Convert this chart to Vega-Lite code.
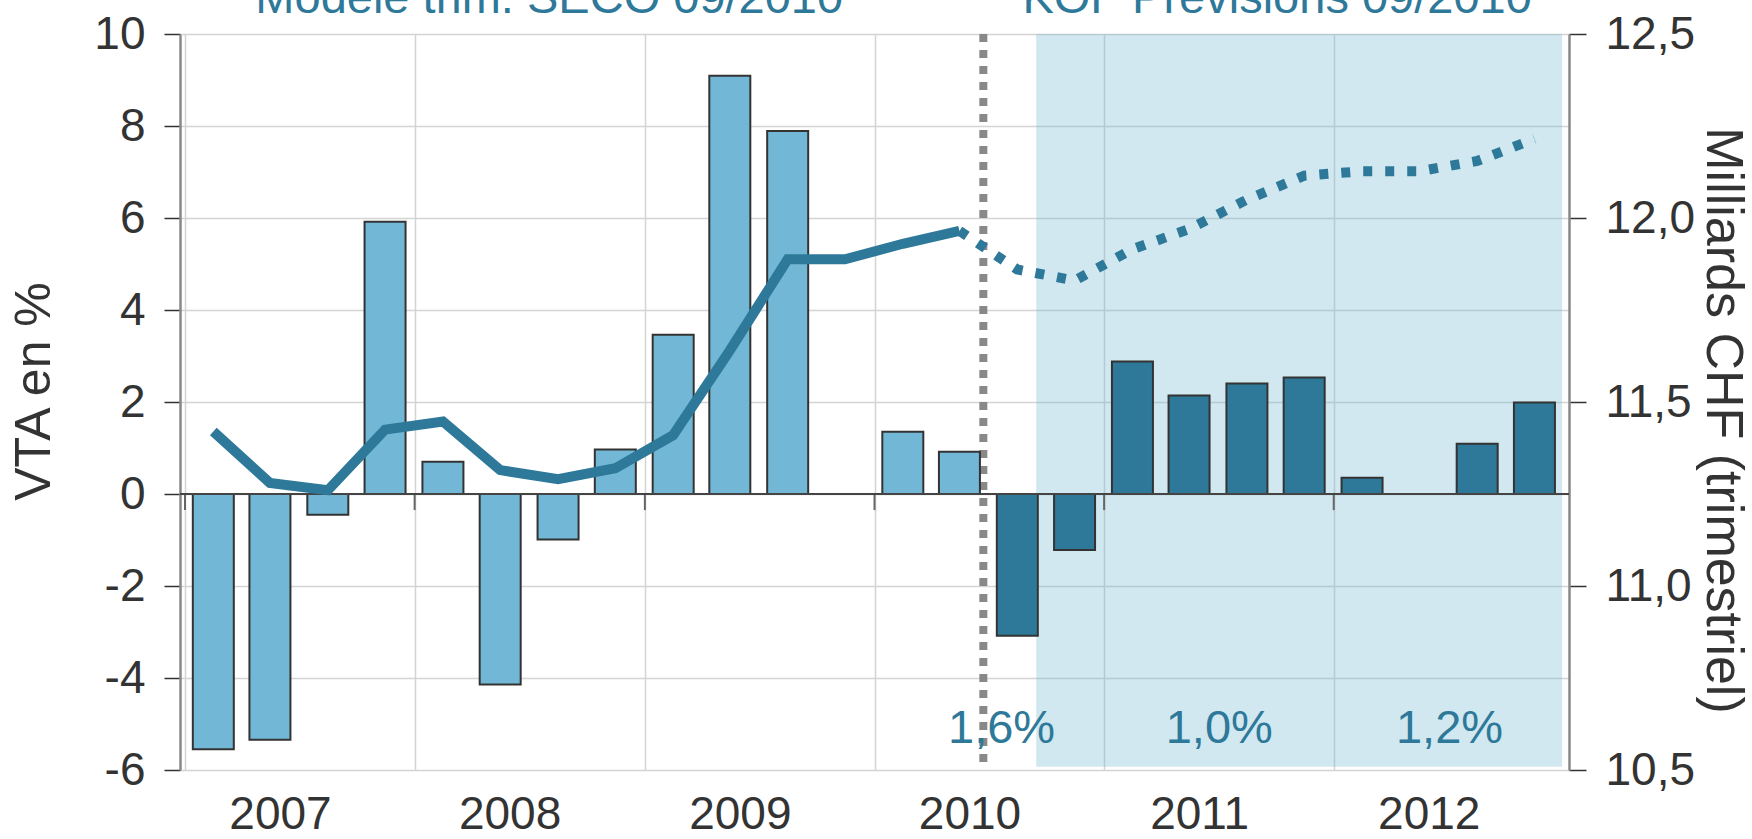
{
  "$schema": "https://vega.github.io/schema/vega-lite/v6.json",
  "width": 1389,
  "height": 736,
  "autosize": {"type": "none"},
  "padding": {"left": 180, "top": 34, "right": 183, "bottom": 69},
  "background": "white",
  "config": {"view": {"stroke": null}, "font": "Liberation Sans"},
  "datasets": {
    "bars": [
      {"date": "2007-02-15", "vta": -5.55, "type": "obs"},
      {"date": "2007-05-16", "vta": -5.34, "type": "obs"},
      {"date": "2007-08-16", "vta": -0.45, "type": "obs"},
      {"date": "2007-11-15", "vta": 5.92, "type": "obs"},
      {"date": "2008-02-15", "vta": 0.7, "type": "obs"},
      {"date": "2008-05-16", "vta": -4.14, "type": "obs"},
      {"date": "2008-08-16", "vta": -0.99, "type": "obs"},
      {"date": "2008-11-15", "vta": 0.97, "type": "obs"},
      {"date": "2009-02-15", "vta": 3.46, "type": "obs"},
      {"date": "2009-05-16", "vta": 9.09, "type": "obs"},
      {"date": "2009-08-16", "vta": 7.89, "type": "obs"},
      {"date": "2010-02-15", "vta": 1.355, "type": "obs"},
      {"date": "2010-05-16", "vta": 0.92, "type": "obs"},
      {"date": "2010-08-16", "vta": -3.08, "type": "prev"},
      {"date": "2010-11-15", "vta": -1.22, "type": "prev"},
      {"date": "2011-02-15", "vta": 2.88, "type": "prev"},
      {"date": "2011-05-16", "vta": 2.14, "type": "prev"},
      {"date": "2011-08-16", "vta": 2.4, "type": "prev"},
      {"date": "2011-11-15", "vta": 2.53, "type": "prev"},
      {"date": "2012-02-15", "vta": 0.355, "type": "prev"},
      {"date": "2012-08-16", "vta": 1.09, "type": "prev"},
      {"date": "2012-11-15", "vta": 1.99, "type": "prev"}
    ],
    "lines": [
      {"date": "2007-02-15", "chf": 11.42, "serie": "SECO"},
      {"date": "2007-05-16", "chf": 11.28, "serie": "SECO"},
      {"date": "2007-08-16", "chf": 11.26, "serie": "SECO"},
      {"date": "2007-11-15", "chf": 11.425, "serie": "SECO"},
      {"date": "2008-02-15", "chf": 11.447, "serie": "SECO"},
      {"date": "2008-05-16", "chf": 11.315, "serie": "SECO"},
      {"date": "2008-08-16", "chf": 11.29, "serie": "SECO"},
      {"date": "2008-11-15", "chf": 11.32, "serie": "SECO"},
      {"date": "2009-02-15", "chf": 11.41, "serie": "SECO"},
      {"date": "2009-05-16", "chf": 11.64, "serie": "SECO"},
      {"date": "2009-08-16", "chf": 11.888, "serie": "SECO"},
      {"date": "2009-11-15", "chf": 11.888, "serie": "SECO"},
      {"date": "2010-02-15", "chf": 11.93, "serie": "SECO"},
      {"date": "2010-05-16", "chf": 11.965, "serie": "SECO"},
      {"date": "2010-05-16", "chf": 11.965, "serie": "KOF"},
      {"date": "2010-08-16", "chf": 11.86, "serie": "KOF"},
      {"date": "2010-11-15", "chf": 11.83, "serie": "KOF"},
      {"date": "2011-02-15", "chf": 11.915, "serie": "KOF"},
      {"date": "2011-05-16", "chf": 11.97, "serie": "KOF"},
      {"date": "2011-08-16", "chf": 12.05, "serie": "KOF"},
      {"date": "2011-11-15", "chf": 12.115, "serie": "KOF"},
      {"date": "2012-02-15", "chf": 12.127, "serie": "KOF"},
      {"date": "2012-05-16", "chf": 12.127, "serie": "KOF"},
      {"date": "2012-08-16", "chf": 12.155, "serie": "KOF"},
      {"date": "2012-11-15", "chf": 12.215, "serie": "KOF"}
    ],
    "zone": [
      {"start": "2010-09-15", "end": "2012-12-29", "top": 10, "bottom": -5.93}
    ],
    "cut": [
      {"date": "2010-06-23"}
    ],
    "years": [
      {"date": "2007-01-01"}, {"date": "2008-01-01"}, {"date": "2009-01-01"},
      {"date": "2010-01-01"}, {"date": "2011-01-01"}, {"date": "2012-01-01"}
    ],
    "labels": [
      {"date": "2010-07-22", "y": -5.42, "text": "1,6%"},
      {"date": "2011-07-03", "y": -5.42, "text": "1,0%"},
      {"date": "2012-07-03", "y": -5.42, "text": "1,2%"},
      {"date": "2008-08-02", "y": 10.46, "text": "Modèle trim. SECO 09/2010"},
      {"date": "2011-10-03", "y": 10.46, "text": "KOF Prévisions 09/2010"}
    ]
  },
  "resolve": {"scale": {"y": "independent"}},
  "layer": [
    {
      "data": {"name": "zone"},
      "mark": {"type": "rect", "color": "#72b8d6", "opacity": 0.33},
      "encoding": {
        "x": {"field": "start", "type": "temporal", "title": null,
          "scale": {"type": "utc", "nice": false, "domain": [{"year": 2007, "month": 1, "date": 1, "utc": true}, {"year": 2013, "month": 1, "date": 1, "utc": true}]},
          "axis": {
            "title": null,
            "values": [
              {"year": 2007, "month": 1, "date": 1, "utc": true},
              {"year": 2008, "month": 1, "date": 1, "utc": true},
              {"year": 2009, "month": 1, "date": 1, "utc": true},
              {"year": 2010, "month": 1, "date": 1, "utc": true},
              {"year": 2011, "month": 1, "date": 1, "utc": true},
              {"year": 2012, "month": 1, "date": 1, "utc": true}
            ],
            "format": "%Y",
            "ticks": false,
            "domain": false,
            "grid": true,
            "gridColor": "#d4d4d4",
            "gridWidth": 1.5,
            "labelFontSize": 46,
            "labelColor": "#333333",
            "labelOffset": 95,
            "labelPadding": 22,
            "labelFlush": false,
            "labelOverlap": false,
            "labelBaseline": "top"
          }
        },
        "x2": {"field": "end"},
        "y": {"field": "top", "type": "quantitative",
          "scale": {"domain": [-6, 10], "nice": false, "zero": false},
          "axis": {
            "values": [-6, -4, -2, 0, 2, 4, 6, 8, 10],
            "labelExpr": "datum.value < 0 ? '-' + abs(datum.value) : '' + datum.value",
            "title": "VTA en %",
            "titleFontSize": 50,
            "titleFontWeight": "normal",
            "titleColor": "#333333",
            "titleAngle": -90,
            "titleX": -131,
            "titleY": 357,
            "titleAlign": "center",
            "titleBaseline": "alphabetic",
            "labelFontSize": 46,
            "labelColor": "#333333",
            "labelPadding": 19,
            "tickSize": 16,
            "tickColor": "#333333",
            "tickWidth": 1.5,
            "domainColor": "#888888",
            "domainWidth": 2.5,
            "grid": true,
            "gridColor": "#d4d4d4",
            "gridWidth": 1.5
          }
        },
        "y2": {"field": "bottom"}
      }
    },
    {
      "data": {"name": "years"},
      "mark": {"type": "rule", "color": "#666666", "strokeWidth": 2},
      "encoding": {
        "x": {"field": "date", "type": "temporal", "title": null},
        "y": {"datum": 0, "type": "quantitative", "axis": null, "scale": {"domain": [-6, 10], "nice": false, "zero": false}},
        "y2": {"datum": -0.35}
      }
    },
    {
      "data": {"name": "cut"},
      "mark": {"type": "rule", "color": "#888888", "strokeWidth": 8, "strokeDash": [8, 8]},
      "encoding": {
        "x": {"field": "date", "type": "temporal", "title": null}
      }
    },
    {
      "data": {"name": "bars"},
      "mark": {"type": "bar", "size": 41, "stroke": "#333333", "strokeWidth": 2},
      "encoding": {
        "x": {"field": "date", "type": "temporal", "title": null},
        "y": {"field": "vta", "type": "quantitative", "axis": null, "scale": {"domain": [-6, 10], "nice": false, "zero": false}},
        "color": {"field": "type", "type": "nominal", "legend": null,
          "scale": {"domain": ["obs", "prev"], "range": ["#72b8d6", "#2e7999"]}}
      }
    },
    {
      "data": {"name": "cut"},
      "mark": {"type": "rule", "color": "#444444", "strokeWidth": 2},
      "encoding": {
        "y": {"datum": 0, "type": "quantitative", "axis": null, "scale": {"domain": [-6, 10], "nice": false, "zero": false}}
      }
    },
    {
      "data": {"name": "labels"},
      "mark": {"type": "text", "fontSize": 47, "color": "#2e7999", "align": "center", "baseline": "alphabetic"},
      "encoding": {
        "x": {"field": "date", "type": "temporal", "title": null},
        "y": {"field": "y", "type": "quantitative", "axis": null, "scale": {"domain": [-6, 10], "nice": false, "zero": false}},
        "text": {"field": "text"}
      }
    },
    {
      "data": {"name": "lines"},
      "transform": [{"filter": "datum.serie === 'SECO'"}],
      "mark": {"type": "line", "color": "#2e7999", "strokeWidth": 10, "strokeCap": "butt", "strokeJoin": "miter"},
      "encoding": {
        "x": {"field": "date", "type": "temporal", "title": null},
        "y": {"field": "chf", "type": "quantitative",
          "scale": {"domain": [10.5, 12.5], "nice": false, "zero": false},
          "axis": {
            "orient": "right",
            "values": [10.5, 11, 11.5, 12, 12.5],
            "labelExpr": "replace(format(datum.value, '.1f'), '.', ',')",
            "title": "Milliards CHF (trimestriel)",
            "titleFontSize": 52,
            "titleFontWeight": "normal",
            "titleColor": "#333333",
            "titleAngle": 90,
            "titleX": 137,
            "titleY": 386,
            "titleAlign": "center",
            "titleBaseline": "alphabetic",
            "labelFontSize": 46,
            "labelColor": "#333333",
            "labelPadding": 19,
            "tickSize": 17,
            "tickColor": "#333333",
            "tickWidth": 1.5,
            "domainColor": "#888888",
            "domainWidth": 2.5,
            "grid": false
          }
        }
      }
    },
    {
      "data": {"name": "lines"},
      "transform": [{"filter": "datum.serie === 'KOF'"}],
      "mark": {"type": "line", "color": "#2e7999", "strokeWidth": 10, "strokeCap": "butt", "strokeDash": [9, 13]},
      "encoding": {
        "x": {"field": "date", "type": "temporal", "title": null},
        "y": {"field": "chf", "type": "quantitative", "axis": null, "scale": {"domain": [10.5, 12.5], "nice": false, "zero": false}}
      }
    }
  ]
}
